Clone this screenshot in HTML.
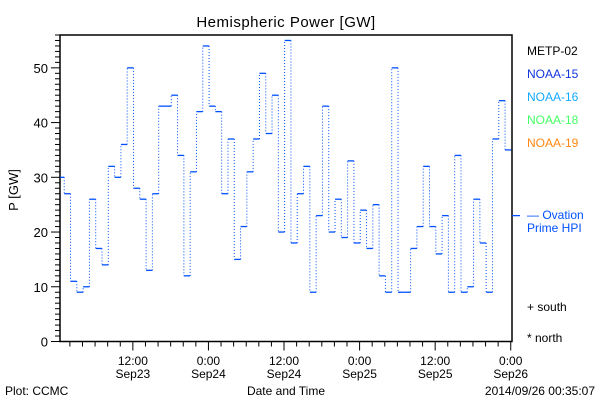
<!DOCTYPE html>
<html><head><meta charset="utf-8"><style>
body{margin:0;background:#fff}
svg{display:block;font-family:"Liberation Sans",sans-serif}
</style></head><body>
<svg id="chart" width="600" height="400" xmlns="http://www.w3.org/2000/svg">
<rect width="600" height="400" fill="#fff"/>
<text x="286" y="27" font-size="15" text-anchor="middle" letter-spacing="0.5">Hemispheric Power [GW]</text>
<text transform="translate(18,190) rotate(-90)" font-size="13" text-anchor="middle">P [GW]</text>
<text x="286" y="395" font-size="12" text-anchor="middle">Date and Time</text>
<text x="5" y="395" font-size="12">Plot: CCMC</text>
<text x="595" y="395" font-size="12" text-anchor="end">2014/09/26 00:35:07</text>
<g id="legend" font-size="12">
<text x="527" y="55" fill="#000">METP-02</text>
<text x="527" y="78" fill="#1133dd">NOAA-15</text>
<text x="527" y="101" fill="#11aaff">NOAA-16</text>
<text x="527" y="124" fill="#44ff66">NOAA-18</text>
<text x="527" y="147" fill="#ff8811">NOAA-19</text>
<text x="527" y="219" fill="#0050ff">— Ovation</text>
<text x="527" y="232" fill="#0050ff">Prime HPI</text>
<text x="527" y="311" fill="#000">+ south</text>
<text x="527" y="342" fill="#000">* north</text>
</g>
<g id="axes"></g>
<g id="series"></g>
</svg>
<script>
const yTicks=[0,10,20,30,40,50];
const xTickHours=[12,24,36,48,60,72];
const xTickTime=["12:00","0:00","12:00","0:00","12:00","0:00"];
const xTickDate=["Sep23","Sep24","Sep24","Sep25","Sep25","Sep26"];
const hpi=[30,27,11,9,10,26,17,14,32,30,36,50,28,26,13,27,43,43,45,34,12,31,42,54,43,42,27,37,15,21,31,37,49,38,45,20,55,18,
27,32,9,23,43,20,26,19,33,18,24,17,25,12,9,50,9,9,17,21,32,21,16,23,9,34,9,10,26,18,9,37,44,35];
const firstHour=0.1;
const L=60,R=512,T=35,B=341.5,H0=0.43,H1=72.2,YMAX=56;
const xs=h=>L+(h-H0)/(H1-H0)*(R-L);
const ys=v=>B-v/YMAX*(B-T);
const NS="http://www.w3.org/2000/svg";
function mk(tag,attrs,parent){const e=document.createElementNS(NS,tag);for(const k in attrs)e.setAttribute(k,attrs[k]);parent.appendChild(e);return e;}
const ax=document.getElementById('axes');
const fr=mk('rect',{x:L,y:T,width:R-L,height:B-T,fill:'none',stroke:'#000','stroke-width':1.5},ax);


for(let v=0;v<=YMAX;v++){
 const len=v%10===0?9:5;
 const t=mk('line',{x1:L-len,x2:L,y1:ys(v),y2:ys(v),stroke:'#000','stroke-width':1},ax);
 
 
}
yTicks.forEach(v=>{
 const t=mk('text',{x:L-12,y:ys(v)+5,'font-size':13,'text-anchor':'end'},ax);
 t.textContent=v;
 
 
});
for(let h=2;h<=72;h+=2){
 const major=h%12===0;
 const t=mk('line',{x1:xs(h),x2:xs(h),y1:B,y2:B+(major?9:5),stroke:'#000','stroke-width':1},ax);
 
 
}
xTickHours.forEach((h,i)=>{
 const a=mk('text',{x:xs(h),y:365,'font-size':12,'text-anchor':'middle'},ax);
 a.textContent=xTickTime[i];
 
 
 const b=mk('text',{x:xs(h),y:378,'font-size':12,'text-anchor':'middle'},ax);
 b.textContent=xTickDate[i];
 
 
});
const sg=document.getElementById('series');
const clip=h=>Math.max(H0,Math.min(H1,h));
hpi.forEach((v,i)=>{
 const h0=clip(firstHour+i),h1=clip(firstHour+i+1);
 if(h1>h0){
  const s=mk('line',{x1:xs(h0),x2:xs(h1),y1:ys(v),y2:ys(v),stroke:'#0050ff','stroke-width':1.3},sg);
  
  
 }
 if(i>0){
  const hb=firstHour+i;
  if(hb>H0&&hb<H1){
   const c=mk('line',{x1:xs(hb),x2:xs(hb),y1:ys(hpi[i-1]),y2:ys(v),stroke:'#0050ff','stroke-width':1,'stroke-dasharray':'1,2'},sg);
   
   
  }
 }
});
const last=hpi[hpi.length-1];
const m=mk('line',{x1:R,x2:R+8,y1:ys(23),y2:ys(23),stroke:'#0050ff','stroke-width':1.3},sg);


</script>
</body></html>
